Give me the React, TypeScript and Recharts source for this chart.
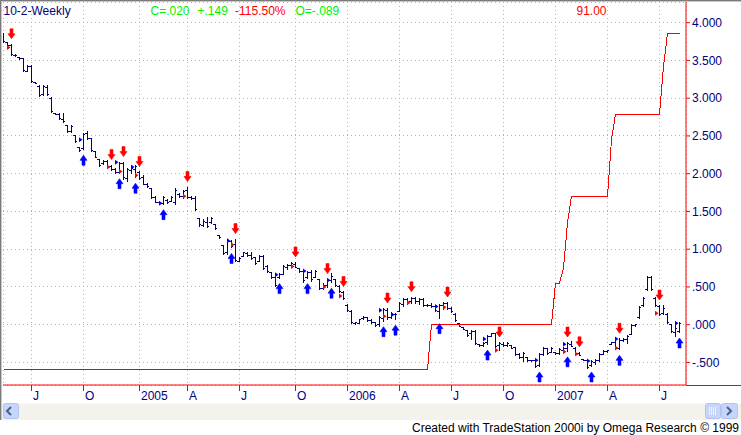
import React from 'react';
import { ComposedChart, Bar, Line, Scatter, XAxis, YAxis, CartesianGrid } from 'recharts';

const FONT = "'Liberation Sans', Arial, Helvetica, sans-serif";
const NAVY = '#000080';
const RED = '#ff0000';
const BLUE = '#0000ff';
const GREEN = '#00f000';

// weekly bars, index 0 = week of mid-May 2004
const HIGH = [
  3.87, 3.75, 3.72, 3.58, 3.55, 3.53, 3.44, 3.44, 3.21, 3.17,
  3.17, 3.17, 3.01, 2.81, 2.81, 2.80, 2.65, 2.65, 2.51, 2.36,
  2.54, 2.56, 2.47, 2.30, 2.20, 2.18, 2.18, 2.12, 2.07, 2.16,
  2.16, 2.07, 2.09, 2.12, 2.03, 1.98, 1.87, 1.81, 1.70, 1.63,
  1.70, 1.66, 1.70, 1.81, 1.74, 1.78, 1.83, 1.70, 1.70, 1.41,
  1.40, 1.42, 1.43, 1.34, 1.19, 1.06, 1.12, 1.12, 1.14, 0.90,
  0.96, 0.96, 0.96, 0.90, 0.92, 0.92, 0.79, 0.70, 0.68, 0.68,
  0.79, 0.81, 0.83, 0.83, 0.75, 0.72, 0.71, 0.72, 0.72, 0.61,
  0.55, 0.61, 0.68, 0.61, 0.53, 0.44, 0.27, 0.19, 0.04, 0.08,
  0.11, 0.10, 0.08, 0.04, 0.11, 0.22, 0.22, 0.17, 0.15, 0.30,
  0.35, 0.35, 0.37, 0.37, 0.35, 0.35, 0.27, 0.29, 0.26, 0.28,
  0.30, 0.30, 0.24, 0.15, 0.02, -0.03, -0.07, -0.07, -0.07, -0.25,
  -0.23, -0.14, -0.11, -0.11, -0.23, -0.23, -0.23, -0.27, -0.29, -0.37,
  -0.36, -0.43, -0.47, -0.47, -0.38, -0.29, -0.31, -0.29, -0.36, -0.31,
  -0.29, -0.23, -0.21, -0.30, -0.36, -0.45, -0.45, -0.47, -0.46, -0.38,
  -0.34, -0.33, -0.23, -0.18, -0.18, -0.18, -0.14, 0.01, 0.01, 0.25,
  0.37, 0.64, 0.64, 0.37, 0.26, 0.26, 0.15, 0.01, 0.01, 0.04,
];
const LOW = [
  3.73, 3.69, 3.56, 3.55, 3.51, 3.35, 3.35, 3.20, 3.19, 3.02,
  3.03, 3.03, 2.80, 2.78, 2.71, 2.67, 2.54, 2.54, 2.40, 2.29,
  2.31, 2.45, 2.29, 2.21, 2.09, 2.12, 2.08, 2.03, 2.00, 2.00,
  1.92, 1.89, 2.00, 1.94, 1.92, 1.85, 1.81, 1.67, 1.61, 1.59,
  1.59, 1.60, 1.62, 1.59, 1.68, 1.67, 1.67, 1.65, 1.50, 1.30,
  1.30, 1.28, 1.34, 1.25, 1.13, 0.92, 0.92, 1.01, 0.83, 0.83,
  0.89, 0.90, 0.86, 0.79, 0.83, 0.72, 0.68, 0.61, 0.50, 0.61,
  0.66, 0.72, 0.75, 0.75, 0.68, 0.55, 0.61, 0.57, 0.62, 0.46,
  0.46, 0.49, 0.55, 0.50, 0.42, 0.33, 0.17, 0.01, 0.00, 0.01,
  0.06, 0.04, 0.01, -0.03, -0.03, 0.04, 0.06, 0.08, 0.06, 0.17,
  0.24, 0.26, 0.28, 0.28, 0.26, 0.24, 0.23, 0.22, 0.17, 0.08,
  0.19, 0.19, 0.15, 0.04, -0.03, -0.07, -0.16, -0.20, -0.27, -0.29,
  -0.29, -0.27, -0.16, -0.31, -0.35, -0.30, -0.30, -0.32, -0.41, -0.45,
  -0.49, -0.49, -0.49, -0.58, -0.56, -0.42, -0.40, -0.38, -0.40, -0.40,
  -0.38, -0.36, -0.30, -0.40, -0.42, -0.48, -0.59, -0.56, -0.53, -0.49,
  -0.40, -0.37, -0.27, -0.34, -0.34, -0.23, -0.25, -0.14, -0.03, 0.08,
  0.24, 0.44, 0.44, 0.24, 0.11, 0.13, 0.01, -0.11, -0.16, -0.11,
];
const OPEN = [
  3.85, 3.74, 3.70, 3.57, 3.54, 3.52, 3.36, 3.42, 3.21, 3.15,
  3.05, 3.14, 3.00, 2.80, 2.79, 2.72, 2.64, 2.56, 2.50, 2.35,
  2.33, 2.53, 2.46, 2.29, 2.19, 2.13, 2.16, 2.09, 2.05, 2.02,
  2.14, 1.94, 2.04, 2.06, 2.01, 1.95, 1.86, 1.80, 1.69, 1.62,
  1.61, 1.65, 1.63, 1.62, 1.73, 1.70, 1.78, 1.69, 1.67, 1.40,
  1.32, 1.36, 1.35, 1.33, 1.18, 1.05, 0.95, 1.10, 1.06, 0.84,
  0.90, 0.94, 0.92, 0.89, 0.84, 0.90, 0.77, 0.69, 0.62, 0.63,
  0.67, 0.76, 0.78, 0.80, 0.74, 0.70, 0.63, 0.69, 0.63, 0.60,
  0.48, 0.52, 0.58, 0.60, 0.51, 0.42, 0.26, 0.17, 0.02, 0.02,
  0.08, 0.09, 0.06, 0.03, 0.00, 0.08, 0.19, 0.10, 0.13, 0.18,
  0.27, 0.33, 0.31, 0.35, 0.31, 0.33, 0.25, 0.26, 0.24, 0.17,
  0.26, 0.28, 0.22, 0.14, 0.01, -0.04, -0.08, -0.12, -0.09, -0.26,
  -0.27, -0.24, -0.15, -0.12, -0.28, -0.26, -0.28, -0.28, -0.30, -0.39,
  -0.44, -0.44, -0.48, -0.48, -0.54, -0.40, -0.32, -0.37, -0.37, -0.38,
  -0.34, -0.32, -0.26, -0.31, -0.38, -0.46, -0.47, -0.54, -0.50, -0.47,
  -0.39, -0.36, -0.26, -0.24, -0.31, -0.21, -0.20, -0.13, -0.01, 0.09,
  0.25, 0.46, 0.62, 0.35, 0.24, 0.15, 0.14, 0.00, -0.10, -0.09,
];
const CLOSE = [
  3.75, 3.70, 3.58, 3.56, 3.52, 3.37, 3.42, 3.22, 3.20, 3.04,
  3.15, 3.05, 2.82, 2.79, 2.73, 2.69, 2.56, 2.62, 2.42, 2.31,
  2.52, 2.47, 2.31, 2.22, 2.11, 2.16, 2.10, 2.05, 2.02, 2.14,
  1.95, 2.05, 2.07, 2.10, 1.94, 1.86, 1.83, 1.69, 1.62, 1.60,
  1.68, 1.62, 1.68, 1.78, 1.70, 1.76, 1.69, 1.67, 1.52, 1.33,
  1.37, 1.30, 1.41, 1.27, 1.15, 0.94, 1.10, 1.04, 0.85, 0.88,
  0.95, 0.91, 0.88, 0.81, 0.90, 0.74, 0.70, 0.63, 0.52, 0.66,
  0.77, 0.79, 0.81, 0.76, 0.70, 0.58, 0.69, 0.60, 0.70, 0.48,
  0.52, 0.58, 0.64, 0.52, 0.44, 0.35, 0.19, 0.03, 0.03, 0.07,
  0.09, 0.06, 0.03, -0.01, 0.09, 0.20, 0.09, 0.15, 0.14, 0.28,
  0.33, 0.30, 0.35, 0.31, 0.33, 0.26, 0.26, 0.24, 0.19, 0.26,
  0.28, 0.21, 0.17, 0.06, -0.02, -0.06, -0.14, -0.09, -0.25, -0.28,
  -0.25, -0.16, -0.12, -0.29, -0.25, -0.28, -0.25, -0.31, -0.39, -0.44,
  -0.38, -0.47, -0.48, -0.56, -0.40, -0.31, -0.38, -0.31, -0.38, -0.33,
  -0.31, -0.25, -0.29, -0.38, -0.41, -0.47, -0.57, -0.49, -0.47, -0.40,
  -0.35, -0.34, -0.24, -0.20, -0.21, -0.19, -0.15, -0.01, 0.00, 0.23,
  0.35, 0.62, 0.46, 0.26, 0.14, 0.22, 0.03, -0.09, -0.05, 0.02,
];
// strategy equity line (red)
const EQUITY = [
  -0.59, -0.59, -0.59, -0.59, -0.59, -0.59, -0.59, -0.59, -0.59, -0.59,
  -0.59, -0.59, -0.59, -0.59, -0.59, -0.59, -0.59, -0.59, -0.59, -0.59,
  -0.59, -0.59, -0.59, -0.59, -0.59, -0.59, -0.59, -0.59, -0.59, -0.59,
  -0.59, -0.59, -0.59, -0.59, -0.59, -0.59, -0.59, -0.59, -0.59, -0.59,
  -0.59, -0.59, -0.59, -0.59, -0.59, -0.59, -0.59, -0.59, -0.59, -0.59,
  -0.59, -0.59, -0.59, -0.59, -0.59, -0.59, -0.59, -0.59, -0.59, -0.59,
  -0.59, -0.59, -0.59, -0.59, -0.59, -0.59, -0.59, -0.59, -0.59, -0.59,
  -0.59, -0.59, -0.59, -0.59, -0.59, -0.59, -0.59, -0.59, -0.59, -0.59,
  -0.59, -0.59, -0.59, -0.59, -0.59, -0.59, -0.59, -0.59, -0.59, -0.59,
  -0.59, -0.59, -0.59, -0.59, -0.59, -0.59, -0.59, -0.59, -0.59, -0.59,
  -0.59, -0.59, -0.59, -0.59, -0.59, -0.59, -0.59, 0.00, 0.00, 0.00,
  0.00, 0.00, 0.00, 0.00, 0.00, 0.00, 0.00, 0.00, 0.00, 0.00,
  0.00, 0.00, 0.00, 0.00, 0.00, 0.00, 0.00, 0.00, 0.00, 0.00,
  0.00, 0.00, 0.00, 0.00, 0.00, 0.00, 0.00, 0.00, 0.55, 0.55,
  0.75, 1.35, 1.70, 1.70, 1.70, 1.70, 1.70, 1.70, 1.70, 1.70,
  1.70, 1.70, 2.45, 2.79, 2.79, 2.79, 2.79, 2.79, 2.79, 2.79,
  2.79, 2.79, 2.79, 2.79, 2.79, 3.42, 3.86, 3.86, 3.86, 3.86,
];

const SELL_IDX = [2, 27, 30, 34, 46, 58, 73, 81, 85, 96, 102, 111, 124, 141, 144, 154, 164];
const SELL_ENTRY = [3.67, 2.09, 2.03, 1.98, 1.70, 1.06, 0.77, 0.50, 0.38, 0.11, 0.29, 0.23, -0.34, -0.36, -0.39, -0.31, 0.15];
const BUY_IDX = [20, 29, 33, 40, 57, 69, 76, 82, 95, 98, 109, 121, 134, 141, 147, 154, 169];
const BUY_ENTRY = [2.45, 2.15, 2.09, 1.61, 1.11, 0.66, 0.71, 0.59, 0.19, 0.13, 0.24, -0.19, -0.47, -0.26, -0.48, -0.19, 0.02];

const X_TICKS = [7, 20, 34, 46, 59, 73, 86, 99, 112, 125, 138, 151, 164];
const X_LABELS = ['J', 'O', '2005', 'A', 'J', 'O', '2006', 'A', 'J', 'O', '2007', 'A', 'J'];
const Y_TICKS = [-0.5, 0, 0.5, 1, 1.5, 2, 2.5, 3, 3.5, 4];

const data = HIGH.map((h, i) => ({
  i,
  range: [LOW[i], HIGH[i]],
  high: HIGH[i],
  low: LOW[i],
  open: OPEN[i],
  close: CLOSE[i],
  eq: EQUITY[i],
}));
const sellArrows = SELL_IDX.map((i) => ({ i, v: HIGH[i] }));
const buyArrows = BUY_IDX.map((i) => ({ i, v: LOW[i] }));
const sellMarks = SELL_IDX.map((i, k) => ({ i, v: SELL_ENTRY[k] }));
const buyMarks = BUY_IDX.map((i, k) => ({ i, v: BUY_ENTRY[k] }));

const fmtY = (v: number) => {
  const s = Math.abs(v).toFixed(3).replace(/^0/, '');
  return (v < 0 ? '-' : '') + s;
};

const OHLCShape = (p: any) => {
  const { x, y, width, height, payload } = p;
  if (x == null || y == null) return null;
  const cx = x + width / 2;
  const h = payload.high;
  const l = payload.low;
  const span = h - l;
  const yOf = (v: number) => (span > 0 ? y + ((h - v) / span) * height : y);
  const yo = yOf(payload.open);
  const yc = yOf(payload.close);
  return (
    <g stroke={NAVY} strokeWidth={1} shapeRendering="crispEdges">
      <line x1={cx} x2={cx} y1={y} y2={y + Math.max(height, 1)} />
      <line x1={cx - 2} x2={cx} y1={yo} y2={yo} />
      <line x1={cx} x2={cx + 2} y1={yc} y2={yc} />
    </g>
  );
};

const DownArrow = (p: any) => {
  const { cx, cy } = p;
  if (cx == null || cy == null) return null;
  const t = cy - 5;
  const d = `M${cx - 1.5},${t - 10} L${cx + 1.5},${t - 10} L${cx + 1.5},${t - 5} L${cx + 3.5},${t - 5} L${cx},${t} L${cx - 3.5},${t - 5} L${cx - 1.5},${t - 5} Z`;
  return <path d={d} fill={RED} stroke={RED} strokeWidth={0.6} strokeLinejoin="miter" />;
};

const UpArrow = (p: any) => {
  const { cx, cy } = p;
  if (cx == null || cy == null) return null;
  const t = cy + 5;
  const d = `M${cx - 1.5},${t + 10} L${cx + 1.5},${t + 10} L${cx + 1.5},${t + 5} L${cx + 3.5},${t + 5} L${cx},${t} L${cx - 3.5},${t + 5} L${cx - 1.5},${t + 5} Z`;
  return <path d={d} fill={BLUE} stroke={BLUE} strokeWidth={0.6} strokeLinejoin="miter" />;
};

const makeTri = (color: string) => (p: any) => {
  const { cx, cy } = p;
  if (cx == null || cy == null) return null;
  const d = `M${cx - 4.5},${cy - 2.5} L${cx - 1},${cy} L${cx - 4.5},${cy + 2.5} Z`;
  return <path d={d} fill={color} stroke="none" />;
};
const RedTri = makeTri(RED);
const BlueTri = makeTri(BLUE);

const XTick = (p: any) => {
  const { x, y, payload } = p;
  const k = X_TICKS.indexOf(payload.value);
  return (
    <text x={x + 1.5} y={y + 7} textAnchor="start" fill={NAVY} fontSize={12} fontFamily={FONT}>
      {k >= 0 ? X_LABELS[k] : ''}
    </text>
  );
};

export default function App() {
  return (
    <div style={{ position: 'absolute', left: 0, top: 0, width: 741, height: 435, background: '#ffffff', overflow: 'hidden' }}>
      <ComposedChart
        width={741}
        height={435}
        data={data}
        margin={{ top: 2, right: 0, left: 3, bottom: 0 }}
        style={{ background: '#ffffff' }}
      >
        <CartesianGrid stroke="#b4b4b4" strokeDasharray="1 3" shapeRendering="crispEdges" />
        <XAxis
          dataKey="i"
          type="number"
          domain={[-0.125, 170.625]}
          ticks={X_TICKS}
          interval={0}
          height={50}
          axisLine={{ stroke: RED }}
          tickLine={{ stroke: RED }}
          tickSize={6}
          tick={<XTick />}
          allowDataOverflow
        />
        <YAxis
          orientation="right"
          type="number"
          domain={[-0.799, 4.274]}
          ticks={Y_TICKS}
          interval={0}
          width={55}
          axisLine={{ stroke: RED }}
          tickLine={{ stroke: RED }}
          tickSize={4}
          tickMargin={2}
          tickFormatter={fmtY}
          tick={{ fill: NAVY, fontSize: 12, fontFamily: FONT, textAnchor: 'start' }}
          allowDataOverflow
        />
        <Line
          dataKey="eq"
          type="linear"
          stroke={RED}
          strokeWidth={1}
          dot={false}
          activeDot={false}
          isAnimationActive={false}
          shapeRendering="crispEdges"
        />
        <Bar dataKey="range" barSize={3} shape={<OHLCShape />} isAnimationActive={false} />
        <Scatter data={sellMarks} dataKey="v" shape={<RedTri />} isAnimationActive={false} />
        <Scatter data={buyMarks} dataKey="v" shape={<BlueTri />} isAnimationActive={false} />
        <Scatter data={sellArrows} dataKey="v" shape={<DownArrow />} isAnimationActive={false} />
        <Scatter data={buyArrows} dataKey="v" shape={<UpArrow />} isAnimationActive={false} />
      </ComposedChart>
      <svg
        width={741}
        height={435}
        style={{ position: 'absolute', left: 0, top: 0, pointerEvents: 'none' }}
        fontFamily={FONT}
        fontSize={12}
      >
        {/* window frame */}
        <rect x={0} y={0} width={741} height={1} fill="#7a7a7a" />
        <rect x={0} y={1} width={741} height={1} fill="#c8c8c8" />
        <rect x={0} y={0} width={1} height={420} fill="#7a7a7a" />
        <rect x={1} y={1} width={1} height={419} fill="#c8c8c8" />
        {/* x axis line continues under the price scale */}
        <line x1={686} x2={741} y1={385.5} y2={385.5} stroke={RED} strokeWidth={1} shapeRendering="crispEdges" />
        {/* header */}
        <text x={3.5} y={15} fill={NAVY}>10-2-Weekly</text>
        <text x={150.5} y={15} fill={GREEN}>C=.020</text>
        <text x={197.5} y={15} fill={GREEN}>+.149</text>
        <text x={235} y={15} fill={RED}>-115.50%</text>
        <text x={295.5} y={15} fill={GREEN}>O=-.089</text>
        <text x={576.5} y={15} fill={RED}>91.00</text>
        {/* scrollbar */}
        <rect x={2} y={403} width={739} height={17} fill="#f3f2ec" />
        <rect x={2} y={403} width={739} height={1} fill="#faf9f6" />
        <rect x={3.5} y={403.5} width={15} height={15} rx={2} fill="#c6d5fb" stroke="#b2c4ee" />
        <polyline points="11,407 7,411 11,415" fill="none" stroke="#4d6185" strokeWidth={2} />
        <rect x={705.5} y={403.5} width={15} height={15} rx={2} fill="#c6d5fb" stroke="#b2c4ee" />
        <line x1={709.5} x2={709.5} y1={407} y2={415} stroke="#eef3ff" />
        <line x1={711.5} x2={711.5} y1={407} y2={415} stroke="#eef3ff" />
        <line x1={713.5} x2={713.5} y1={407} y2={415} stroke="#eef3ff" />
        <line x1={715.5} x2={715.5} y1={407} y2={415} stroke="#eef3ff" />
        <rect x={721.5} y={403.5} width={16} height={15} rx={2} fill="#c6d5fb" stroke="#b2c4ee" />
        <polyline points="727,407 731,411 727,415" fill="none" stroke="#4d6185" strokeWidth={2} />
        {/* footer */}
        <text x={739} y={432} textAnchor="end" fill="#000000">
          Created with TradeStation 2000i by Omega Research © 1999
        </text>
      </svg>
    </div>
  );
}
